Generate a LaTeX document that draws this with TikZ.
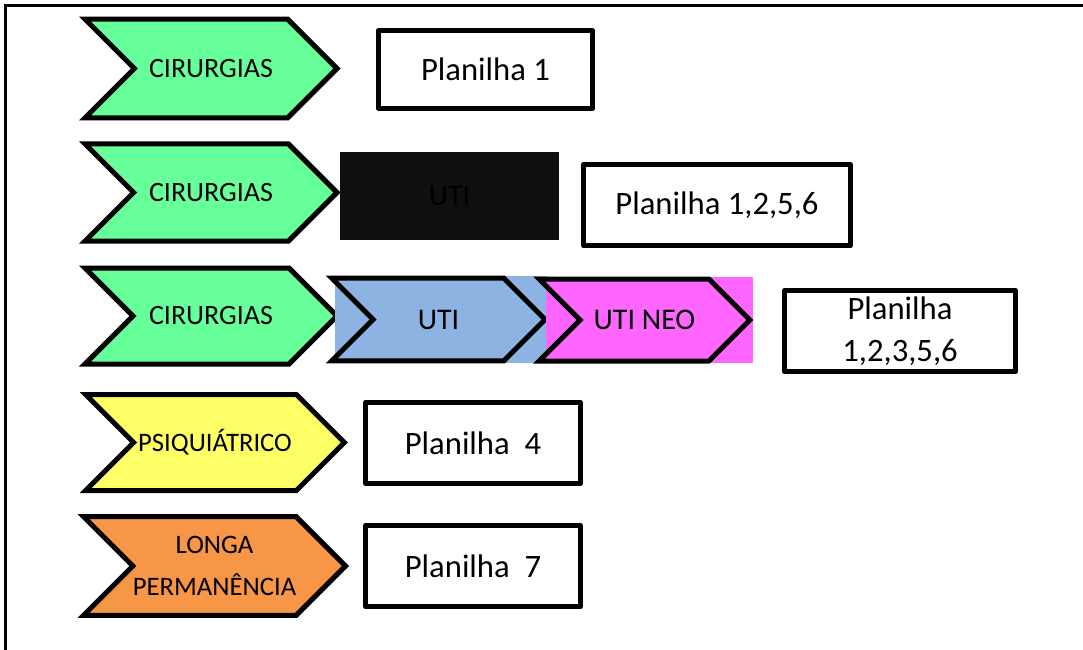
\documentclass[tikz,border=0pt]{standalone}
\usepackage{fontspec}
\setmainfont{Carlito}
\usetikzlibrary{shapes.symbols,positioning}
\definecolor{cirgreen}{HTML}{66FF99}
\definecolor{psiyellow}{HTML}{FFFF66}
\definecolor{longorange}{HTML}{F79646}
\definecolor{utiblue}{HTML}{8DB3E2}
\definecolor{neopink}{HTML}{FF66FF}
\definecolor{utiblack}{HTML}{0F0F0F}
\begin{document}
\begin{tikzpicture}[
  x=0.75pt,y=-0.75pt,
  chev/.style={signal,signal from=west,signal to=east,signal pointer angle=90,
    draw=black,line width=3.75pt,line join=miter,inner sep=0pt,align=center,
    font=\fontsize{21}{31.5}\selectfont},
  sheet/.style={draw=black,line width=3.75pt,line join=round,inner sep=0pt,align=center,
    font=\fontsize{24.5}{31.5}\selectfont},
  bg/.style={inner sep=0pt,outer sep=0pt}
]
\useasboundingbox (0,0) rectangle (1083,650);
\draw[line width=2.2pt] (5.5,650) -- (5.5,5.3) -- (1083,5.3);
% row 1
\node[chev,fill=cirgreen,minimum width=189pt,minimum height=74pt] (c1) at (211,68.5) {CIRURGIAS};
\node[sheet,minimum width=161pt,minimum height=58pt] (p1) at (485.5,69.5) {Planilha 1};
% row 2
\node[chev,fill=cirgreen,minimum width=189pt,minimum height=73pt] (c2) at (211,192.5) {CIRURGIAS};
\node[bg,fill=utiblack,minimum width=164pt,minimum height=66pt,font=\fontsize{22.5}{27}\selectfont] (u2) at (449.5,196) {UTI};
\node[sheet,minimum width=200pt,minimum height=61pt] (p2) at (717,205) {Planilha 1,2,5,6};
% row 3
\node[chev,fill=cirgreen,minimum width=189pt,minimum height=72pt] (c3) at (211,316) {CIRURGIAS};
\node[bg,fill=utiblue,minimum width=159pt,minimum height=65pt] (u3bg) at (441,319.5) {};
\node[chev,fill=utiblue,minimum width=160pt,minimum height=62pt,font=\fontsize{22.5}{27}\selectfont] (u3) at (438.5,319.5) {UTI};
\node[bg,fill=neopink,minimum width=155pt,minimum height=64.5pt] (n3bg) at (649.5,320) {};
\node[chev,fill=neopink,minimum width=158pt,minimum height=61.5pt,font=\fontsize{22.5}{27}\selectfont] (n3) at (644.5,320) {UTI NEO};
\node[sheet,minimum width=173pt,minimum height=61pt] (p3) at (900,331) {Planilha\\1,2,3,5,6};
% row 4
\node[chev,fill=psiyellow,minimum width=194pt,minimum height=72pt,font=\fontsize{20}{27}\selectfont] (c4) at (215,442.5) {PSIQUIÁTRICO};
\node[sheet,minimum width=161pt,minimum height=61pt] (p4) at (473,443) {Planilha \ 4};
% row 5
\node[chev,fill=longorange,minimum width=195pt,minimum height=74pt,font=\fontsize{20}{31.5}\selectfont] (c5) at (214.5,566) {LONGA\\PERMANÊNCIA};
\node[sheet,minimum width=161pt,minimum height=61pt] (p5) at (473,566) {Planilha \ 7};
\end{tikzpicture}
\end{document}
